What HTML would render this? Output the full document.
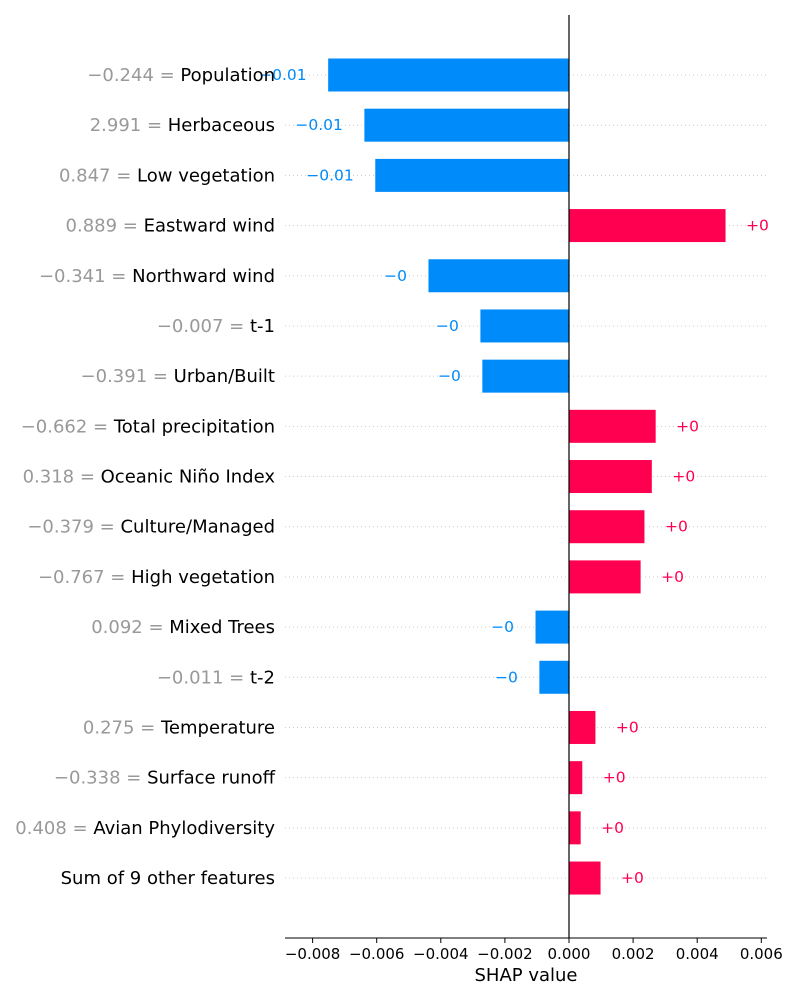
<!DOCTYPE html>
<html><head><meta charset="utf-8"><style>
body{margin:0;background:#fff;}
svg text{font-family:"DejaVu Sans","Liberation Sans",sans-serif;}
</style></head><body>
<svg id="chart" width="800" height="1000" xmlns="http://www.w3.org/2000/svg"></svg>
<script>
const featureValues = ["−0.244","2.991","0.847","0.889","−0.341","−0.007","−0.391","−0.662","0.318","−0.379","−0.767","0.092","−0.011","0.275","−0.338","0.408",""];
const featureNames = ["Population","Herbaceous","Low vegetation","Eastward wind","Northward wind","t-1","Urban/Built","Total precipitation","Oceanic Niño Index","Culture/Managed","High vegetation","Mixed Trees","t-2","Temperature","Surface runoff","Avian Phylodiversity","Sum of 9 other features"];
const shapValues = [-0.00753,-0.0064,-0.00606,0.0049,-0.0044,-0.00278,-0.00272,0.00272,0.0026,0.00237,0.00225,-0.00106,-0.00094,0.00084,0.00043,0.00038,0.001];
const valueLabels = ["−0.01","−0.01","−0.01","+0","−0","−0","−0","+0","+0","+0","+0","−0","−0","+0","+0","+0","+0"];
const xTicks = [-0.008,-0.006,-0.004,-0.002,0,0.002,0.004,0.006];
const xTickLabels = ["−0.008","−0.006","−0.004","−0.002","0.000","0.002","0.004","0.006"];

const NS="http://www.w3.org/2000/svg";
const svg=document.getElementById('chart');
const x0=569, scale=32050;
const xs=v=>x0+v*scale;
const ys=i=>75+i*50.19;
const axL=285, axR=767, axY=938;
function mk(t,a,p){const e=document.createElementNS(NS,t);for(const k in a)e.setAttribute(k,a[k]);(p||svg).appendChild(e);return e;}

featureNames.forEach((n,i)=>{
  const y=ys(i), v=shapValues[i];
  const g=mk('line',{x1:axL,x2:axR,y1:y,y2:y,stroke:'#ccc','stroke-dasharray':'1,3','stroke-width':1});
  
  
  const xa=Math.min(xs(0),xs(v)), w=Math.abs(xs(v)-xs(0));
  const col=v<0?'#008bfb':'#ff0051';
  const b=mk('rect',{x:xa,y:y-17,width:w,height:34,fill:col,stroke:'#fff','stroke-width':1});
  
  
  const lt=mk('text',{x:v<0?xs(v)-21:xs(v)+20,y:y+5,'font-size':15.5,fill:col,'text-anchor':v<0?'end':'start'});
  lt.textContent=valueLabels[i];
  
  
  const t=mk('text',{x:275,y:y+6,'font-size':18,'text-anchor':'end'});
  
  
  if(featureValues[i]){const s=mk('tspan',{fill:'#999'},t);s.textContent=featureValues[i]+' = ';}
  const s2=mk('tspan',{fill:'#000'},t);s2.textContent=n;
});
const zl=mk('line',{x1:x0,x2:x0,y1:15,y2:axY,stroke:'#000','stroke-width':1.2});


const ax=mk('line',{x1:axL,x2:axR,y1:axY,y2:axY,stroke:'#000','stroke-width':1});


xTicks.forEach((t,i)=>{
  const X=xs(t);
  const tk=mk('line',{x1:X,x2:X,y1:axY,y2:axY+5,stroke:'#000'});
  
  
  const tl=mk('text',{x:X,y:axY+21,'font-size':15,'text-anchor':'middle'});
  tl.textContent=xTickLabels[i];
  
  
});
const xt=mk('text',{x:526,y:981,'font-size':18,'text-anchor':'middle'});
xt.textContent='SHAP value';


</script>
</body></html>
